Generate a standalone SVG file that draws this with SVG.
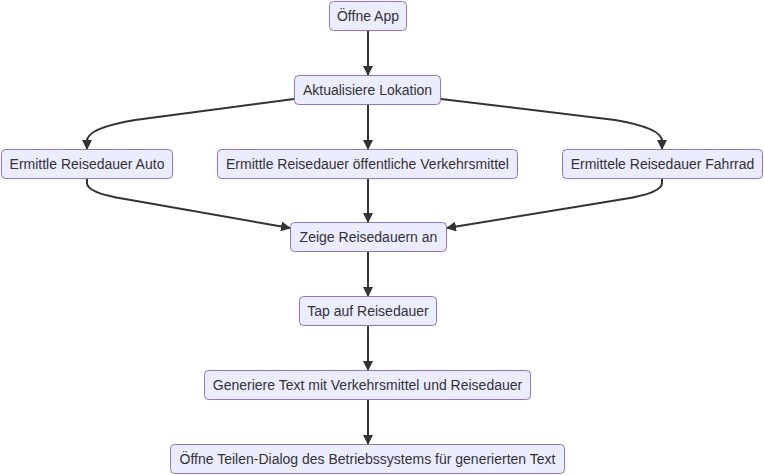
<svg xmlns="http://www.w3.org/2000/svg" width="764" height="475" viewBox="0 0 764 475">
<style>
.node rect{fill:#ECECFF;stroke:#9370DB;stroke-width:1}
.node text{font-family:"Liberation Sans",Arial,sans-serif;font-size:14px;fill:#333;text-anchor:middle}
.edge{fill:none;stroke:#333;stroke-width:2;marker-end:url(#arr)}
</style>
<defs>
<marker id="arr" viewBox="0 0 10 10" refX="9" refY="5" markerWidth="10" markerHeight="10" markerUnits="userSpaceOnUse" orient="auto">
<path d="M0,0 L10,5 L0,10 z" fill="#333"/>
</marker>
</defs>
<rect width="764" height="475" fill="#fff"/>
<g id="edges">
<path class="edge" d="M368,31 L368,75"/>
<path class="edge" d="M294,99 L135,120 Q87,128 87,141 L87,149"/>
<path class="edge" d="M368,104 L368,149"/>
<path class="edge" d="M441,99 L615,120 Q662,128 662,141 L662,149"/>
<path class="edge" d="M87,178 L87,183 Q87,193 125,199 L290,228"/>
<path class="edge" d="M368,178 L368,222"/>
<path class="edge" d="M662,178 L662,183 Q662,193 624,199 L447,228"/>
<path class="edge" d="M368,252 L368,296"/>
<path class="edge" d="M368,326 L368,370"/>
<path class="edge" d="M368,400 L368,444"/>
</g>
<g id="n1" class="node"><rect x="329.5" y="1.5" width="77" height="29" rx="4"/><text x="368" y="21">Öffne App</text></g>
<g id="n2" class="node"><rect x="294.5" y="75.5" width="146" height="29" rx="4"/><text x="367.5" y="95">Aktualisiere Lokation</text></g>
<g id="n3" class="node"><rect x="1.5" y="149.5" width="171" height="29" rx="4"/><text x="87" y="169">Ermittle Reisedauer Auto</text></g>
<g id="n4" class="node"><rect x="217.5" y="149.5" width="300" height="29" rx="4"/><text x="367.5" y="169">Ermittle Reisedauer öffentliche Verkehrsmittel</text></g>
<g id="n5" class="node"><rect x="562.5" y="149.5" width="200" height="29" rx="4"/><text x="662.5" y="169">Ermittele Reisedauer Fahrrad</text></g>
<g id="n6" class="node"><rect x="290.5" y="222.5" width="156" height="29" rx="4"/><text x="368.5" y="242">Zeige Reisedauern an</text></g>
<g id="n7" class="node"><rect x="299.5" y="296.5" width="137" height="29" rx="4"/><text x="368" y="316">Tap auf Reisedauer</text></g>
<g id="n8" class="node"><rect x="204.5" y="370.5" width="326" height="29" rx="4"/><text x="367.5" y="390">Generiere Text mit Verkehrsmittel und Reisedauer</text></g>
<g id="n9" class="node"><rect x="170.5" y="444.5" width="394" height="29" rx="4"/><text x="367.5" y="464">Öffne Teilen-Dialog des Betriebssystems für generierten Text</text></g>
</svg>
